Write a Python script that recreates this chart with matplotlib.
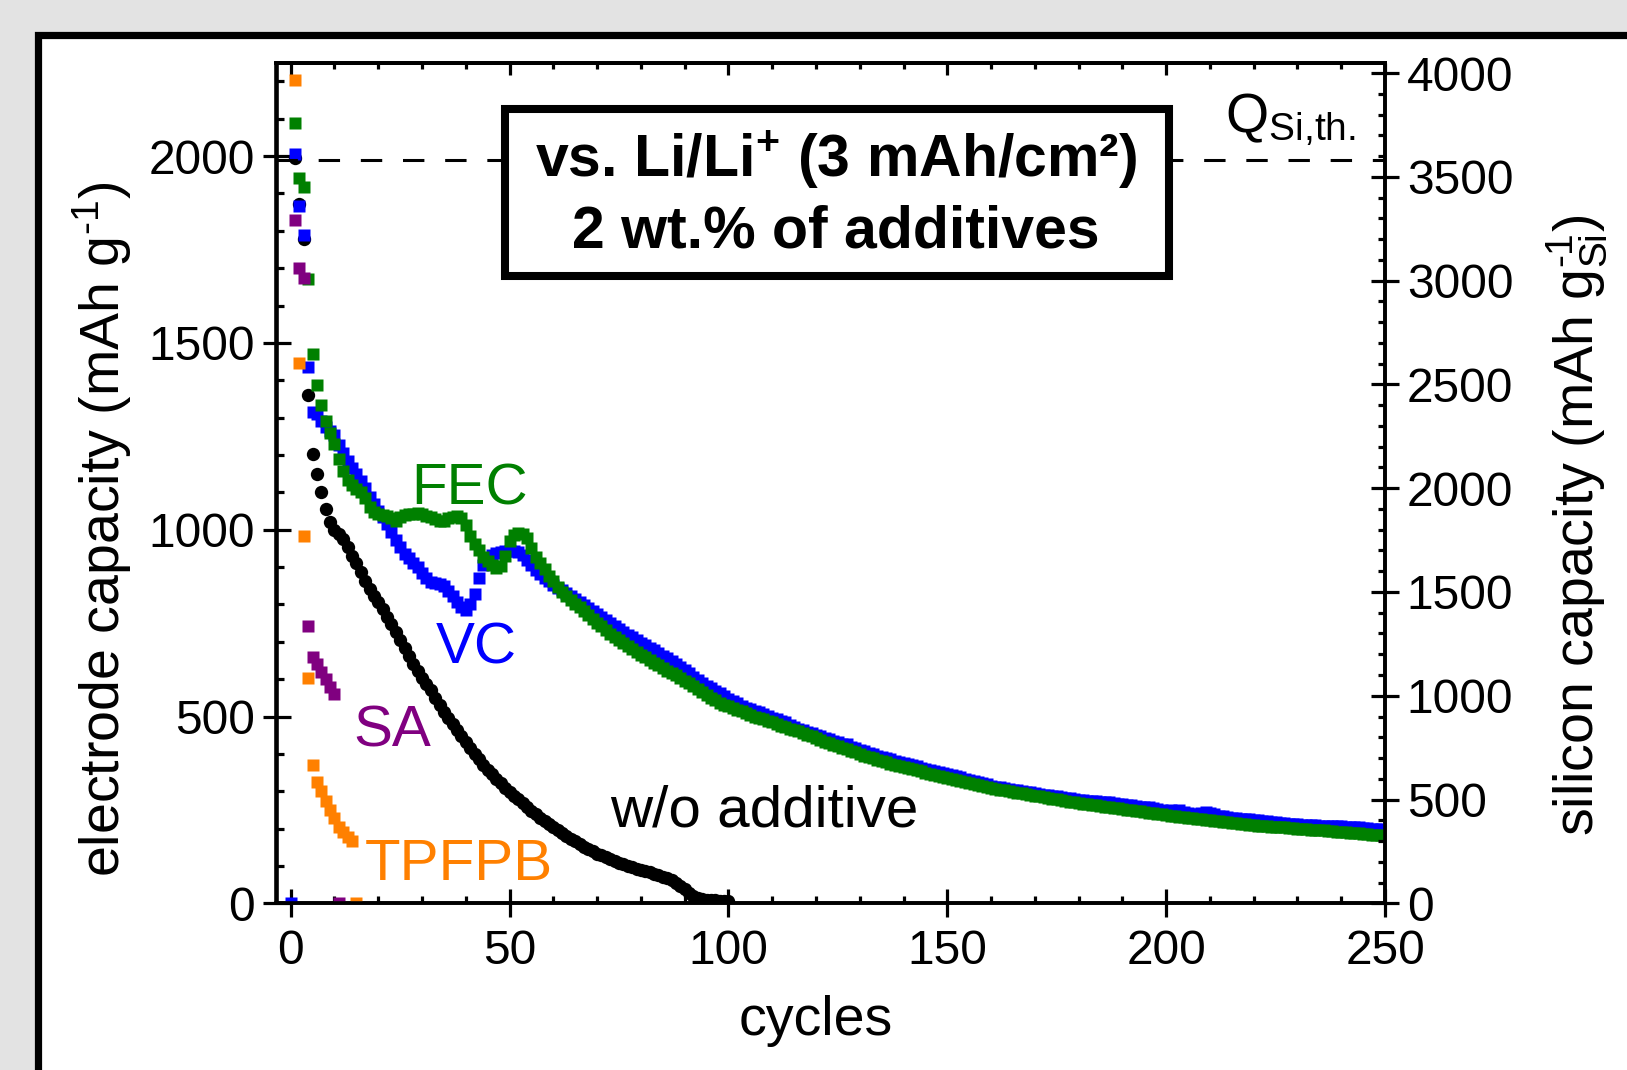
import numpy as np
import matplotlib
matplotlib.use("Agg")
import matplotlib.pyplot as plt
from matplotlib.patches import Rectangle
from matplotlib.ticker import MultipleLocator

plt.rcParams['font.family'] = ['Liberation Sans', 'DejaVu Sans']
plt.rcParams['mathtext.fontset'] = 'custom'
plt.rcParams['mathtext.rm'] = 'Liberation Sans'
plt.rcParams['mathtext.it'] = 'Liberation Sans'
plt.rcParams['mathtext.bf'] = 'Liberation Sans:bold'

# ---- data (electrode capacity, mAh/g, per cycle) ----
vc_cyc = np.arange(0, 251)
vc_cap = [
    0,
    2005, 1866, 1790, 1435, 1314, 1309, 1292, 1276, 1263, 1254,
    1228, 1204, 1184, 1165, 1148, 1131, 1112, 1088, 1068, 1050,
    1034, 1015, 994, 972, 953, 936, 924, 911, 900, 884,
    870, 861, 858, 854, 848, 837, 822, 806, 792, 786,
    800, 827, 872, 905, 925, 932, 937, 940, 942, 943,
    942, 940, 931, 918, 905, 893, 881, 871, 862, 853,
    845, 838, 830, 823, 815, 807, 799, 791, 782, 774,
    766, 758, 750, 742, 734, 726, 719, 712, 705, 698,
    691, 684, 677, 670, 663, 656, 648, 640, 632, 624,
    616, 607, 598, 590, 582, 575, 568, 562, 555, 548,
    541, 535, 529, 524, 519, 515, 511, 507, 502, 497,
    492, 487, 485, 477, 472, 467, 463, 459, 455, 451,
    447, 443, 439, 435, 431, 427, 426, 419, 415, 411,
    407, 403, 399, 395, 392, 388, 385, 381, 378, 375,
    372, 369, 368, 363, 360, 357, 354, 351, 349, 346,
    344, 341, 337, 333, 330, 327, 324, 321, 318, 315,
    312, 310, 308, 306, 304, 302, 300, 298, 297, 295,
    293, 291, 289, 287, 286, 284, 283, 281, 279, 277,
    276, 275, 274, 273, 272, 271, 270, 268, 267, 265,
    264, 262, 260, 259, 257, 258, 254, 252, 250, 248,
    250, 247, 249, 244, 242, 240, 240, 242, 244, 243,
    238, 235, 233, 231, 229, 228, 226, 226, 225, 224,
    222, 221, 219, 218, 217, 216, 215, 213, 212, 211,
    210, 210, 209, 209, 208, 208, 207, 207, 206, 206,
    205, 204, 204, 203, 202, 201, 200, 199, 198, 197,
]

fec_cyc = np.arange(1, 251)
fec_cap = [
    2088, 1942, 1917, 1670, 1470, 1387, 1333, 1291, 1260, 1229,
    1190, 1157, 1132, 1120, 1110, 1101, 1084, 1062, 1048, 1042,
    1040, 1037, 1030, 1024, 1034, 1040, 1041, 1043, 1044, 1041,
    1038, 1035, 1028, 1023, 1022, 1030, 1035, 1036, 1030, 1012,
    982, 962, 946, 926, 915, 905, 898, 903, 930, 970,
    985, 991, 988, 978, 952, 928, 912, 894, 876, 862,
    846, 833, 822, 812, 802, 792, 782, 771, 760, 750,
    741, 731, 722, 713, 705, 697, 689, 681, 673, 665,
    658, 651, 644, 637, 630, 623, 616, 610, 603, 596,
    589, 582, 573, 565, 557, 550, 543, 536, 531, 527,
    523, 518, 514, 509, 504, 500, 496, 492, 488, 484,
    479, 475, 471, 467, 463, 460, 456, 451, 447, 442,
    437, 432, 428, 424, 420, 416, 412, 408, 404, 399,
    395, 391, 388, 384, 381, 377, 374, 371, 368, 365,
    362, 359, 356, 353, 350, 347, 344, 341, 338, 336,
    333, 330, 327, 324, 321, 318, 316, 313, 311, 309,
    306, 304, 302, 300, 298, 296, 294, 292, 290, 288,
    286, 284, 282, 280, 278, 276, 274, 272, 270, 268,
    266, 265, 263, 262, 260, 259, 257, 256, 254, 252,
    251, 249, 248, 246, 244, 243, 241, 240, 238, 237,
    235, 234, 232, 231, 229, 228, 226, 225, 223, 222,
    221, 219, 218, 217, 215, 214, 213, 211, 210, 209,
    208, 207, 206, 205, 205, 204, 203, 202, 201, 200,
    199, 198, 197, 196, 196, 195, 194, 193, 192, 191,
    190, 189, 188, 187, 186, 185, 184, 183, 182, 181,
]

sa_cyc = np.arange(1, 12)
sa_cap = [1829, 1701, 1674, 743, 658, 640, 620, 600, 580, 560, 0]

tp_cyc = np.arange(1, 16)
tp_cap = [2203, 1446, 983, 604, 371, 326, 300, 275, 250, 228, 205, 190, 178, 168, 0]

wo_cyc = np.arange(1, 101)
wo_cap = [
    1995, 1873, 1778, 1360, 1202, 1150, 1100, 1056, 1020, 1000,
    988, 975, 955, 930, 910, 888, 862, 840, 822, 806,
    787, 767, 748, 727, 705, 683, 662, 641, 622, 604,
    588, 570, 550, 530, 512, 496, 479, 463, 447, 431,
    416, 400, 385, 371, 358, 345, 333, 321, 309, 298,
    288, 278, 268, 258, 248, 238, 229, 220, 211, 203,
    195, 187, 180, 173, 166, 158, 151, 145, 139, 133,
    128, 123, 118, 113, 109, 105, 100, 96, 92, 89,
    86, 83, 79, 75, 71, 67, 62, 55, 46, 37,
    28, 20, 14, 11, 9, 8, 8, 7, 7, 6,
]

q_si_th = 3579      # theoretical Si capacity, mAh/g_Si
si_factor = 1.8     # electrode -> silicon capacity

W, H = 1627, 1070
def px(x):
    return x / W
def py(y):
    return 1 - y / H

fig = plt.figure(figsize=(W / 100, H / 100), dpi=100, facecolor='#e3e3e3')

# white panel with thick black frame
fig.add_artist(Rectangle((px(38), py(1300)), 1.2, py(34.5) - py(1300),
                         transform=fig.transFigure, facecolor='white',
                         edgecolor='black', lw=5.2, zorder=-1))

ax = fig.add_axes([px(276.5), py(903.3), px(1385) - px(276.5), py(62.7) - py(903.3)])
ax.set_facecolor('white')

sq = 9.0
ax.plot(wo_cyc, wo_cap, ls='none', marker='o', ms=9.6, mec='none', color='black', zorder=2)
ax.plot(vc_cyc, vc_cap, ls='none', marker='s', ms=sq, mec='none', color='#0000ff', zorder=3)
ax.plot(fec_cyc, fec_cap, ls='none', marker='s', ms=sq, mec='none', color='#008000', zorder=4)
ax.plot(sa_cyc, sa_cap, ls='none', marker='s', ms=sq, mec='none', color='#800080', zorder=5)
ax.plot(tp_cyc, tp_cap, ls='none', marker='s', ms=sq, mec='none', color='#ff8000', zorder=6)

ax.set_xlim(-3.25, 250)
ax.set_ylim(0, 2250)
ax.xaxis.set_major_locator(MultipleLocator(50))
ax.xaxis.set_minor_locator(MultipleLocator(10))
ax.yaxis.set_major_locator(MultipleLocator(500))
ax.yaxis.set_minor_locator(MultipleLocator(100))

ax.tick_params(which='major', direction='inout', length=19.5, width=2.3, labelsize=34.5)
ax.tick_params(which='minor', direction='in', length=5, width=2.3)
ax.tick_params(axis='x', which='major', pad=9)
ax.tick_params(axis='y', which='major', pad=6)
ax.tick_params(top=False, right=False)
for s in ax.spines.values():
    s.set_linewidth(2.6)

secx = ax.secondary_xaxis('top')
secx.xaxis.set_major_locator(MultipleLocator(50))
secx.xaxis.set_minor_locator(MultipleLocator(10))
secx.tick_params(which='major', direction='in', length=8.6, width=2.3, labeltop=False)
secx.tick_params(which='minor', direction='in', length=4.3, width=2.3)
secx.spines['top'].set_linewidth(2.6)

ax2 = ax.twinx()
ax2.set_ylim(0, 2250 * si_factor)
ax2.yaxis.set_major_locator(MultipleLocator(500))
ax2.yaxis.set_minor_locator(MultipleLocator(100))
ax2.tick_params(which='major', direction='inout', length=19.5, width=2.3, labelsize=34.5, pad=6)
ax2.tick_params(which='minor', direction='in', length=5, width=2.3)
for s in ax2.spines.values():
    s.set_linewidth(2.6)

ax2.axhline(q_si_th, color='black', lw=2.2, dashes=(7.0, 6.8), zorder=1)

# axis labels
fig.text(px(102), py(529), r'electrode capacity (mAh g$^{\text{-}1}$)', rotation=90,
         ha='center', va='center', fontsize=40)
fig.text(px(1577), py(525), r'silicon capacity (mAh g$_{Si}^{\text{-}1}$)', rotation=90,
         ha='center', va='center', fontsize=40)
fig.text(px(816), py(1021), 'cycles', ha='center', va='center', fontsize=40)

# series labels
ax.text(27.5, 1067, 'FEC', color='#008000', fontsize=42, ha='left', va='baseline')
ax.text(33.2, 641, 'VC', color='#0000ff', fontsize=42, ha='left', va='baseline')
ax.text(14.2, 419, 'SA', color='#800080', fontsize=42, ha='left', va='baseline')
ax.text(17.0, 62, 'TPFPB', color='#ff8000', fontsize=42, ha='left', va='baseline')
ax.text(73.0, 206, 'w/o additive', color='black', fontsize=42, ha='left', va='baseline')

fig.text(px(1356), py(132), r'Q$_{\mathrm{Si{,}th.}}$', ha='right', va='baseline', fontsize=40)

# annotation box
fig.add_artist(Rectangle((px(505), py(276)), px(1169) - px(505), py(109) - py(276),
                         transform=fig.transFigure, facecolor='white',
                         edgecolor='black', lw=5.8, zorder=3))
fig.text(px(836), py(177), r'vs. Li/Li$^{\mathbf{+}}$ (3 mAh/cm²)', fontweight='bold',
         fontsize=42.5, ha='center', va='baseline', zorder=4)
fig.text(px(836), py(247), '2 wt.% of additives', fontweight='bold',
         fontsize=42.5, ha='center', va='baseline', zorder=4)

fig.savefig('out.png', dpi=100, facecolor=fig.get_facecolor())
